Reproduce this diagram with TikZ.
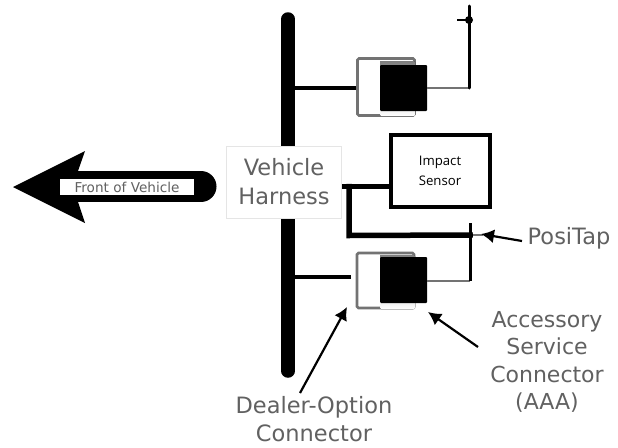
\documentclass[tikz,border=0pt]{standalone}
\usepackage{fontspec}
\setmainfont{DejaVu Sans}
\newfontfamily\sensorfont{Open Sans}
\definecolor{lbl}{gray}{0.38}
\definecolor{wiregray}{gray}{0.45}
\definecolor{shade}{gray}{0.6}
\usetikzlibrary{arrows.meta}
\tikzset{
  x=1pt,y=-1pt,
  label text/.style={text=lbl,font=\fontsize{22.5}{27}\selectfont,align=center,inner sep=0pt},
  pointer/.style={draw=black,line width=2.2pt,-{Latex[length=13pt,width=14pt]}},
  frame box/.style={draw=wiregray,line width=2.6pt,fill=white,rounded corners=1.5pt,minimum width=57pt,minimum height=57pt,inner sep=0pt},
  black box/.style={fill=black,rounded corners=1pt,minimum width=47pt,minimum height=46pt,inner sep=0pt},
  thin wire/.style={draw=wiregray,line width=2.2pt},
  tap wire/.style={draw=black,line width=3pt},
  feed/.style={draw=black,line width=4.2pt},
  heavy/.style={draw=black,line width=5.5pt}
}
\begin{document}
\begin{tikzpicture}
\useasboundingbox (0,0) rectangle (618,447);
\fill[white] (0,0) rectangle (618,447);
% bus
\coordinate (busT) at (288,19);
\coordinate (busB) at (288,371);
\draw[black,line width=13.5pt,line cap=round] (busT) -- (busB);
% front arrow
\draw[black,line width=31pt,line cap=round] (80,186.5) -- (201,186.5);
\fill[black] (13,187) -- (85,151) -- (78,171) -- (78,202) -- (85,223) -- cycle;
\node[fill=white,minimum width=134pt,minimum height=16pt,inner sep=0pt,font=\fontsize{13.6}{14}\selectfont,text=lbl] (front) at (127,187) {Front of Vehicle};
% harness
\node[draw=black!10,fill=white,line width=.8pt,minimum width=115pt,minimum height=72pt,inner sep=0pt,align=center,text=lbl,font=\fontsize{22.5}{29}\selectfont] (harness) at (284,182) {Vehicle\\Harness};
% upper connector
\node[frame box] (upF) at (386,87) {};
\fill[shade,rounded corners=1pt] (380,61) rectangle (415,116);
\node[black box] (upB) at (403.5,88) {};
\coordinate (upBus) at (288,88);
\coordinate (upCorner) at (469,88);
\coordinate (upTop) at (469,6);
\coordinate (upTap) at (469,20);
\coordinate (upTick) at (457,20);
\draw[feed] (upBus) -- (upF.west |- upBus);
\draw[thin wire] (upB.east |- upCorner) -- (upCorner);
\draw[tap wire,line cap=round] (upCorner) -- (upTop);
\fill[black] (upTap) circle[radius=4pt];
\draw[black,line width=2.5pt] (upTick) -- (upTap);
% sensor
\node[draw=black,line width=4pt,fill=white,minimum width=99pt,minimum height=72pt,inner sep=0pt,align=center,font=\sensorfont\fontsize{13.2}{20}\selectfont] (sensor) at (440,171) {Impact\\Sensor};
% lower connector
\node[frame box,minimum height=55pt] (lowF) at (385.5,280.5) {};
\fill[shade,rounded corners=1pt] (380,255) rectangle (415,309);
\node[black box] (lowB) at (403.5,280) {};
\coordinate (lowBus) at (288,277);
\coordinate (lowEnd) at (351,277);
\coordinate (lowCorner) at (470,281);
\coordinate (tapTop) at (470,223);
\coordinate (tapBase) at (470,235);
\coordinate (tapStub) at (483,235);
\coordinate (wA) at (342,186.5);
\coordinate (wB) at (349,186.5);
\coordinate (wC) at (349,235.5);
\draw[feed] (lowBus) -- (lowEnd);
\draw[thin wire] (lowB.east |- lowCorner) -- (lowCorner);
\draw[tap wire] (lowCorner) -- (tapTop);
\draw[thin wire,line width=1.5pt] (tapBase) -- (tapStub);
\draw[heavy] (sensor.west |- wA) -- (wA);
\draw[heavy,line cap=rect] (wB) -- (wC) -- (tapBase);
% labels
\node[label text] (posi) at (569,238) {PosiTap};
\node[label text,font=\fontsize{22}{27.3}\selectfont] (asc) at (547,362) {Accessory\\Service\\Connector\\(AAA)};
\node[label text,font=\fontsize{22.5}{28}\selectfont] (dealer) at (314,419) {Dealer-Option\\Connector};
\coordinate (ascTail) at (478,347);
\coordinate (ascHead) at (428,312);
\coordinate (dealerTail) at (300,393);
\coordinate (dealerHead) at (347,307);
\coordinate (posiTail) at (522,241);
\coordinate (posiHead) at (481,234);
\draw[pointer] (posiTail) -- (posiHead);
\draw[pointer] (ascTail) -- (ascHead);
\draw[pointer] (dealerTail) -- (dealerHead);
\end{tikzpicture}
\end{document}
